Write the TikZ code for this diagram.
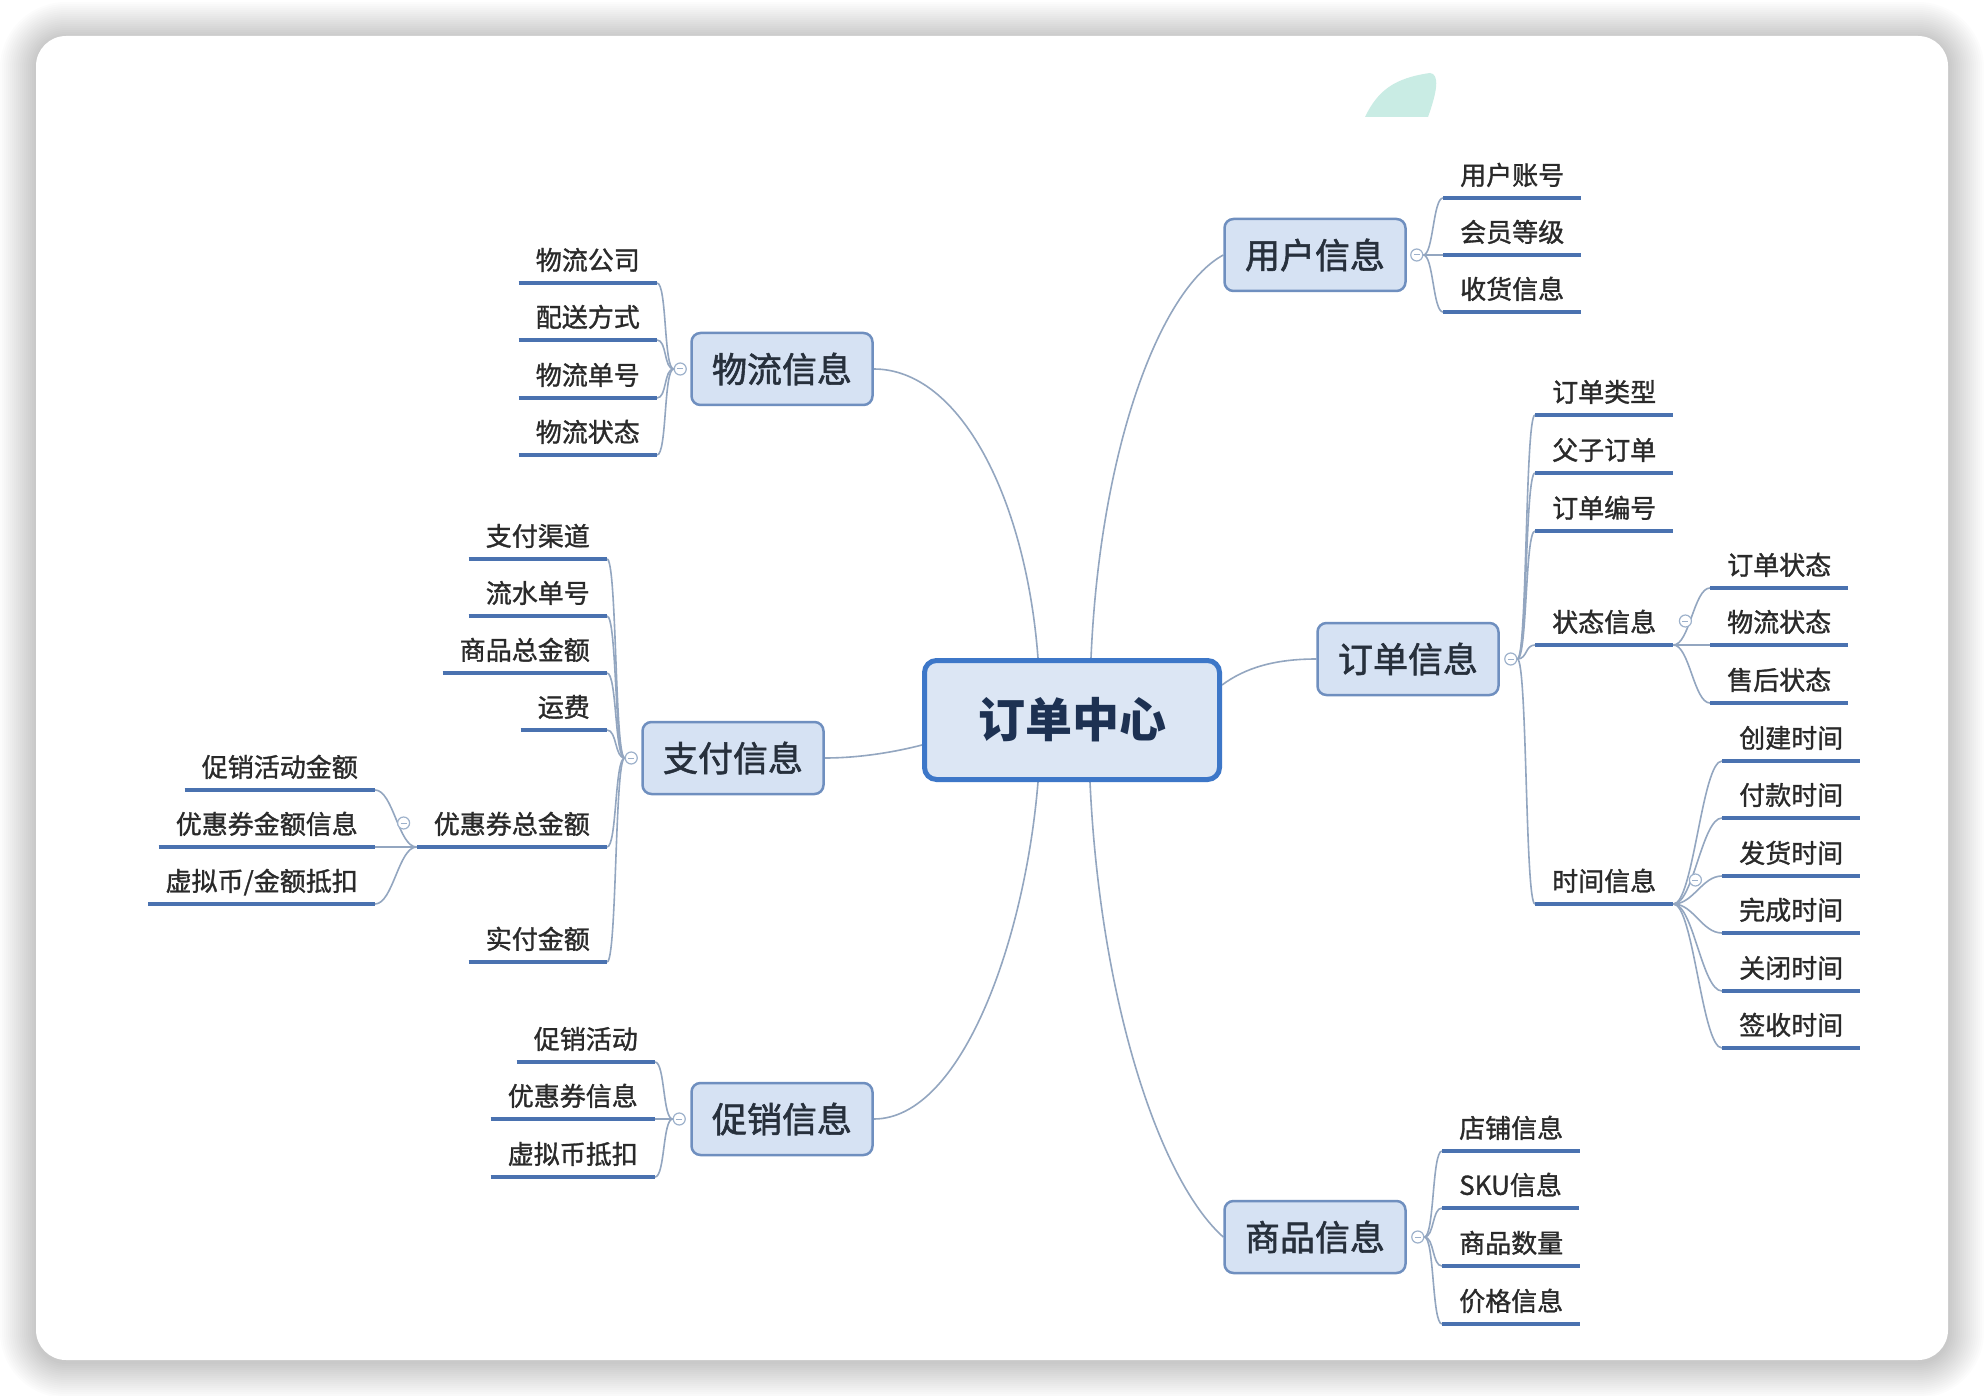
\documentclass[tikz,border=0pt]{standalone}
\usepackage{fontspec}
\newfontfamily\cjk{Noto Sans CJK SC}
\newfontfamily\cjkleaf{Noto Sans CJK SC}[FakeBold=1.2]
\newfontfamily\cjktopic{Noto Sans CJK SC}[FakeBold=1.6]
\usetikzlibrary{calc}
\definecolor{linkc}{HTML}{93A6C0}
\definecolor{ulinec}{HTML}{4A72B0}
\definecolor{boxfill}{HTML}{D6E2F3}
\definecolor{boxedge}{HTML}{6F8FBF}
\definecolor{hubedge}{HTML}{3D77C8}
\definecolor{hubfill}{HTML}{DCE6F4}
\definecolor{hubtext}{HTML}{1D3152}
\definecolor{maintext}{HTML}{27303C}
\definecolor{leaftext}{HTML}{2A2A2A}
\definecolor{knobc}{HTML}{9DB1CB}
\definecolor{leafgreen}{HTML}{C9ECE4}
\pgfdeclarelayer{back}
\pgfdeclarelayer{links}
\pgfsetlayers{back,links,main}
\tikzset{
  hub/.style={draw=hubedge, fill=hubfill, line width=5pt, rounded corners=12pt,
    minimum width=295pt, minimum height=119pt, inner sep=0pt,
    font=\cjk\fontsize{47}{52}\selectfont\bfseries, text=hubtext},
  topic/.style={draw=boxedge, fill=boxfill, line width=2.5pt, rounded corners=9pt,
    minimum width=181pt, minimum height=72pt, inner sep=0pt,
    font=\cjktopic\fontsize{35}{40}\selectfont, text=maintext},
  leaf/.style={inner xsep=17pt, inner ysep=0pt, text height=30pt, text depth=13pt,
    font=\cjkleaf\fontsize{26}{30}\selectfont, text=leaftext},
  rleaf/.style={leaf, anchor=south west},
  lleaf/.style={leaf, anchor=south east},
  uline/.style={draw=ulinec, line width=4pt},
  link/.style={draw=linkc, line width=1.6pt},
  rlink/.style={link, to path={.. controls +(#1,0) and +(-#1,0) .. (\tikztotarget)}},
  llink/.style={link, to path={.. controls +(-#1,0) and +(#1,0) .. (\tikztotarget)}},
  knob/.style={circle, draw=knobc, fill=white, line width=1.2pt, minimum size=12pt,
    inner sep=0pt, path picture={\draw[knobc, line width=1pt]
      ([xshift=-3pt]path picture bounding box.center) --
      ([xshift=3pt]path picture bounding box.center);}},
}
\begin{document}
\begin{tikzpicture}[x=1pt,y=-1pt]
\useasboundingbox (0,0) rectangle (1984,1396);

% card with soft shadow
\begin{pgfonlayer}{back}
  \fill[white] (0,0) rectangle (1984,1396);
  \foreach \i in {1,...,18}{
    \pgfmathsetmacro{\shr}{30+2*\i}
    \fill[black, opacity=0.011, rounded corners=\shr pt]
      ({36-2*\i},{38-2*\i}) rectangle ({1948+2*\i},{1362+2*\i});
  }
  \fill[white, rounded corners=30pt] (36,36) rectangle (1948,1360);
  \fill[leafgreen] (1365,117) .. controls (1378,90) and (1395,78) .. (1430,73)
    .. controls (1440,74) and (1437,92) .. (1428,117) -- cycle;
\end{pgfonlayer}

% central topic and main branches
\node[hub] (hub) at (1072,720) {订单中心};
\node[topic] (wu) at (1315,255) {用户信息};
\node[topic] (wl) at (782,369) {物流信息};
\node[topic] (wp) at (733,758) {支付信息};
\node[topic] (wc) at (782,1119) {促销信息};
\node[topic] (wg) at (1315,1237) {商品信息};
\node[topic] (wo) at (1408,659) {订单信息};

% 用户信息
\node[rleaf] (u1) at (1443,198) {用户账号};
\node[rleaf] (u2) at (1443,255) {会员等级};
\node[rleaf] (u3) at (1443,312) {收货信息};

% 物流信息
\node[lleaf] (l1) at (657,283) {物流公司};
\node[lleaf] (l2) at (657,340) {配送方式};
\node[lleaf] (l3) at (657,398) {物流单号};
\node[lleaf] (l4) at (657,455) {物流状态};

% 支付信息
\node[lleaf] (p1) at (607,559) {支付渠道};
\node[lleaf] (p2) at (607,616) {流水单号};
\node[lleaf] (p3) at (607,673) {商品总金额};
\node[lleaf] (p4) at (607,730) {运费};
\node[lleaf] (p5) at (607,847) {优惠券总金额};
\node[lleaf] (p6) at (607,962) {实付金额};
\node[lleaf] (q1) at (375,790) {促销活动金额};
\node[lleaf] (q2) at (375,847) {优惠券金额信息};
\node[lleaf] (q3) at (375,904) {虚拟币/金额抵扣};

% 促销信息
\node[lleaf] (c1) at (655,1062) {促销活动};
\node[lleaf] (c2) at (655,1119) {优惠券信息};
\node[lleaf] (c3) at (655,1177) {虚拟币抵扣};

% 商品信息
\node[rleaf] (g1) at (1442,1151) {店铺信息};
\node[rleaf] (g2) at (1442,1208) {SKU信息};
\node[rleaf] (g3) at (1442,1266) {商品数量};
\node[rleaf] (g4) at (1442,1324) {价格信息};

% 订单信息
\node[rleaf] (o1) at (1535,415) {订单类型};
\node[rleaf] (o2) at (1535,473) {父子订单};
\node[rleaf] (o3) at (1535,531) {订单编号};
\node[rleaf] (o4) at (1535,645) {状态信息};
\node[rleaf] (o5) at (1535,904) {时间信息};
\node[rleaf] (s1) at (1710,588) {订单状态};
\node[rleaf] (s2) at (1710,645) {物流状态};
\node[rleaf] (s3) at (1710,703) {售后状态};
\node[rleaf] (t1) at (1722,761) {创建时间};
\node[rleaf] (t2) at (1722,818) {付款时间};
\node[rleaf] (t3) at (1722,876) {发货时间};
\node[rleaf] (t4) at (1722,933) {完成时间};
\node[rleaf] (t5) at (1722,991) {关闭时间};
\node[rleaf] (t6) at (1722,1048) {签收时间};

% collapse knobs
\node[knob] (ku) at ([xshift=10pt]wu.east) {};
\node[knob] (kl) at ([xshift=-10pt]wl.west) {};
\node[knob] (kp) at ([xshift=-10pt]wp.west) {};
\node[knob] (kc) at ([xshift=-11pt]wc.west) {};
\node[knob] (kg) at ([xshift=11pt]wg.east) {};
\node[knob] (ko) at ([xshift=11pt]wo.east) {};
\node[knob] (ks) at ([xshift=12pt,yshift=24pt]o4.south east) {};
\node[knob] (kt) at ([xshift=22pt,yshift=24pt]o5.south east) {};
\node[knob] (kq) at ([xshift=-13pt,yshift=24pt]p5.south west) {};

% underlines of the text topics
\foreach \n in {u1,u2,u3,l1,l2,l3,l4,p1,p2,p3,p4,p5,p6,q1,q2,q3,c1,c2,c3,
                g1,g2,g3,g4,o1,o2,o3,o4,o5,s1,s2,s3,t1,t2,t3,t4,t5,t6}
  \draw[uline] (\n.south west) -- (\n.south east);

% connectors
\begin{pgfonlayer}{links}
  \draw[link] ([xshift=-34pt]hub.north) .. controls +(-12,-158) and +(87,0) .. (wl.east);
  \draw[link] ([xshift=19pt]hub.north) .. controls +(9,-208) and +(-64,35) .. (wu.west);
  \draw[link] ([xshift=-34pt]hub.south) .. controls +(-13,158) and +(88,0) .. (wc.east);
  \draw[link] ([xshift=18pt]hub.south) .. controls +(10,218) and +(-64,-57) .. (wg.west);
  \draw[link] ([yshift=35pt]hub.east) .. controls +(23,-17) and +(-42,0) .. (wo.west);
  \draw[link] ([yshift=-25pt]hub.west) .. controls +(-27,7) and +(35,0) .. (wp.east);

  \foreach \n in {u1,u2,u3} \draw[rlink=10] (ku.east) to (\n.south west);
  \foreach \n in {g1,g2,g3,g4} \draw[rlink=10] (kg.east) to (\n.south west);
  \foreach \n in {o1,o2,o3,o4,o5} \draw[rlink=10] (ko.east) to (\n.south west);
  \foreach \n in {s1,s2,s3} \draw[rlink=16] (o4.south east) to (\n.south west);
  \foreach \n in {t1,t2,t3,t4,t5,t6} \draw[rlink=20] (o5.south east) to (\n.south west);
  \foreach \n in {l1,l2,l3,l4} \draw[llink=10] (kl.west) to (\n.south east);
  \foreach \n in {p1,p2,p3,p4,p5,p6} \draw[llink=10] (kp.west) to (\n.south east);
  \foreach \n in {q1,q2,q3} \draw[llink=18] (p5.south west) to (\n.south east);
  \foreach \n in {c1,c2,c3} \draw[llink=10] (kc.west) to (\n.south east);
\end{pgfonlayer}
\end{tikzpicture}
\end{document}
